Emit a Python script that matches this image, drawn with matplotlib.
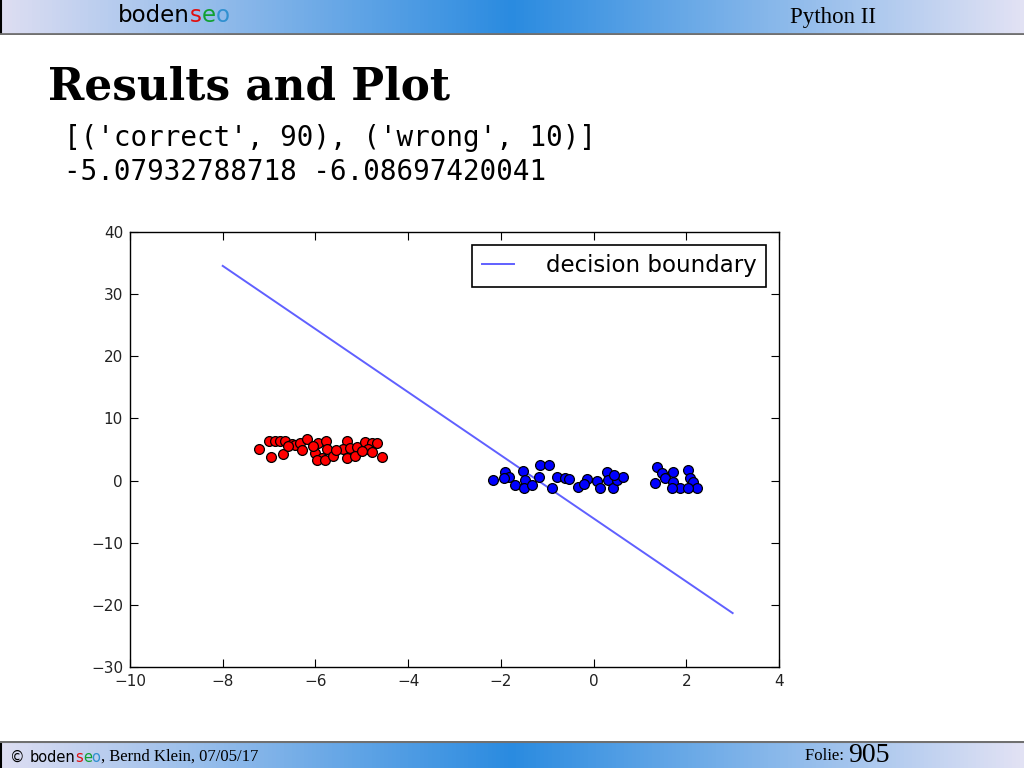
import numpy as np
import matplotlib
matplotlib.use('Agg')
import matplotlib.pyplot as plt
from matplotlib.colors import LinearSegmentedColormap

# Data
red_x = [-7.22, -7.00, -6.87, -6.76, -6.66, -6.96, -6.70, -6.51, -6.44, -6.33,
         -6.18, -6.29, -6.01, -5.94, -5.77, -5.75, -5.86, -5.97, -5.79, -5.62,
         -5.32, -5.41, -5.25, -5.10, -5.32, -5.15, -4.93, -4.78, -4.67, -4.87,
         -4.78, -4.56, -6.60, -6.05, -5.55, -5.00]
red_y = [5.09, 6.37, 6.37, 6.37, 6.37, 3.80, 4.28, 5.89, 5.73, 6.05,
         6.69, 4.92, 4.44, 6.05, 6.37, 5.09, 3.64, 3.32, 3.32, 3.96,
         6.37, 5.09, 5.25, 5.41, 3.64, 3.96, 6.21, 6.05, 6.05, 5.09,
         4.60, 3.80, 5.60, 5.50, 4.90, 4.70]

blue_x = [-2.17, -1.91, -1.82, -1.93, -1.70, -1.52, -1.48, -1.50, -1.33, -1.16,
          -0.96, -1.18, -0.90, -0.79, -0.62, -0.53, -0.34, -0.14, 0.07, 0.14,
          0.29, 0.31, 0.42, 0.50, 0.63, 1.37, 1.48, 1.32, 1.54, 1.71,
          1.71, 1.86, 2.04, 2.08, 2.14, 2.23, 2.04, 1.69, -0.20, 0.45]
blue_y = [0.10, 1.38, 0.58, 0.42, -0.71, 1.54, 0.10, -1.19, -0.71, 2.51,
          2.51, 0.58, -1.19, 0.58, 0.42, 0.26, -1.03, 0.26, -0.06, -1.19,
          1.38, 0.10, -1.19, 0.10, 0.58, 2.19, 1.22, -0.39, 0.42, 1.38,
          -0.23, -1.19, 1.71, 0.42, -0.23, -1.19, -1.19, -1.19, -0.50, 0.90]

slope = -5.07932788718
intercept = -6.08697420041
line_x = [-8, 3]

xticks = [-10, -8, -6, -4, -2, 0, 2, 4]
yticks = [-30, -20, -10, 0, 10, 20, 30, 40]

fig = plt.figure(figsize=(10.24, 7.68), dpi=100)
fig.patch.set_facecolor('white')

# header and footer gradient bars
cmap = LinearSegmentedColormap.from_list('bar', ['#dedef2', '#2a8be0', '#e2e2f4'])
grad = np.linspace(0, 1, 512).reshape(1, -1)
for bottom, height in [(1 - 35 / 768, 35 / 768), (0, 27 / 768)]:
    bax = fig.add_axes([0, bottom, 1, height])
    bax.imshow(grad, aspect='auto', cmap=cmap, extent=[0, 1, 0, 1])
    bax.set_xlim(0, 1)
    bax.set_ylim(0, 1)
    bax.axis('off')
    bax.plot([0.0005, 0.0005], [0, 1], color='black', lw=1.5)
    if bottom > 0:
        bax.plot([0, 1], [0.02, 0.02], color='#707070', lw=2)
    else:
        bax.plot([0, 1], [0.98, 0.98], color='#707070', lw=1.5)

renderer = fig.canvas.get_renderer()


def colored_text(x, y, parts, **kw):
    # draw consecutive pieces of text in different colours (pixel coords)
    for s, c, extra in parts:
        opts = dict(kw)
        opts.update(extra)
        t = fig.text(x / 1024, 1 - y / 768, s, color=c, va='center', ha='left', **opts)
        bb = t.get_window_extent(renderer)
        x += bb.width


logo = [('boden', 'black', {}), ('s', '#e01010', {}), ('e', '#10a030', {}), ('o', '#3090d0', {})]
colored_text(118, 16, logo, fontsize=16.5, family='DejaVu Sans')
fig.text(790 / 1024, 1 - 17 / 768, 'Python II', fontsize=16.5, family='Liberation Serif',
         va='center', ha='left', color='black')

colored_text(10, 757, [('© ', 'black', {})] + logo +
             [(', Bernd Klein, 07/05/17', 'black', {'family': 'Liberation Serif', 'fontsize': 12})],
             fontsize=10.5, family='DejaVu Sans')
colored_text(805, 756, [('Folie: ', 'black', {'fontsize': 12}), ('905', 'black', {'fontsize': 20})],
             family='Liberation Serif')

# title and printed output
fig.text(48 / 1024, 1 - 87 / 768, 'Results and Plot', fontsize=31.5, family='DejaVu Serif',
         weight='heavy', va='center', ha='left')
fig.text(64 / 1024, 1 - 138 / 768, "[('correct', 90), ('wrong', 10)]", fontsize=19.9,
         family='DejaVu Sans Mono', va='center', ha='left')
fig.text(64 / 1024, 1 - 172 / 768, '-5.07932788718 -6.08697420041', fontsize=19.9,
         family='DejaVu Sans Mono', va='center', ha='left')

# the plot
ax = fig.add_axes([130 / 1024, 1 - 667 / 768, 649 / 1024, 435 / 768])
ax.scatter(red_x, red_y, s=50, c='#ff0000', edgecolors='black', linewidths=0.9, zorder=3)
ax.scatter(blue_x, blue_y, s=50, c='#0000ff', edgecolors='black', linewidths=0.9, zorder=3)
line_y = [slope * v + intercept for v in line_x]
ax.plot(line_x, line_y, color='#6060ff', lw=1.4, label='decision boundary', zorder=2)

ax.set_xlim(-10, 4)
ax.set_ylim(-30, 40)
ax.set_xticks(xticks)
ax.set_yticks(yticks)
ax.tick_params(direction='in', top=True, right=True, length=6, labelsize=11,
               labelcolor='#222222', pad=5)
for sp in ax.spines.values():
    sp.set_linewidth(1.0)

leg = ax.legend(loc='upper right', fontsize=16.5, fancybox=False, edgecolor='black',
                framealpha=1, handlelength=1.4, borderpad=0.42, handletextpad=1.4,
                borderaxespad=0.55)
leg.get_frame().set_linewidth(1.2)

fig.savefig('out.png', dpi=100)
